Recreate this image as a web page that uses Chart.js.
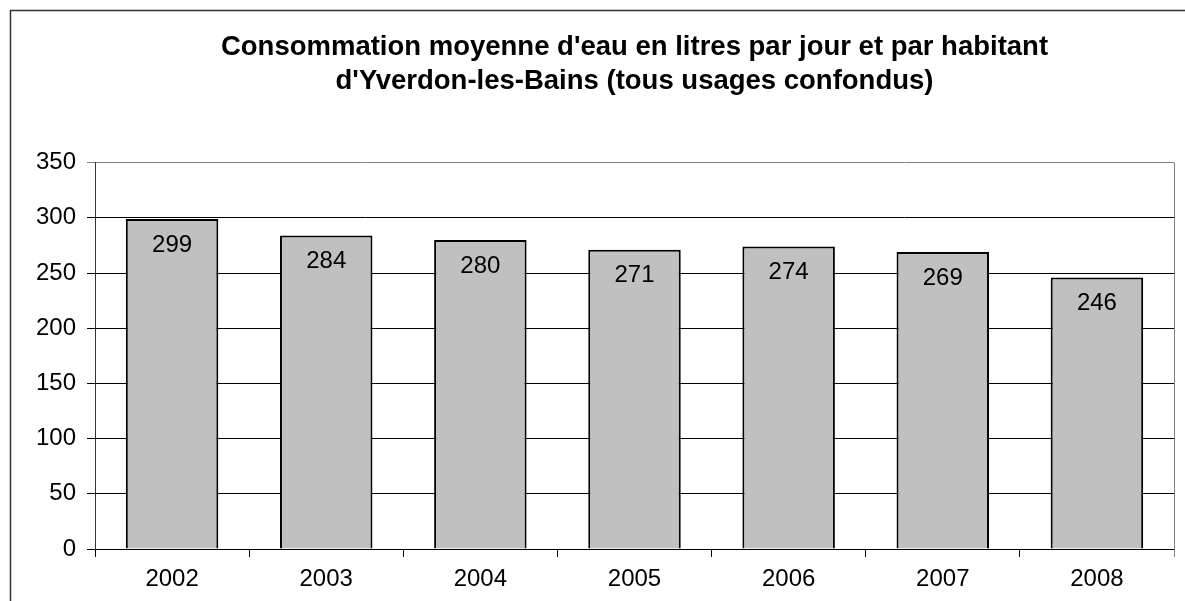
<!DOCTYPE html>
<html>
<head>
<meta charset="utf-8">
<script src="https://cdn.jsdelivr.net/npm/chart.js@4"></script>
<style>
  html, body { margin: 0; padding: 0; background: #fff; overflow: hidden; }
  #wrap { width: 1185px; height: 601px; }
</style>
</head>
<body>
<div id="wrap"><canvas id="chart"></canvas></div>
<script>
const annees = ['2002', '2003', '2004', '2005', '2006', '2007', '2008'];
const consommation = [299, 284, 280, 271, 274, 269, 246];
const titreLignes = [
    "Consommation moyenne d'eau en litres par jour et par habitant",
    "d'Yverdon-les-Bains (tous usages confondus)"
];
const yMin = 0;
const yMax = 350;
const yPas = 50;

const police = '"Liberation Sans", Arial, sans-serif';

// cadre extérieur (haut + gauche) + bordure droite de la zone de tracé + étiquettes dans les barres
const cadrePlugin = {
    id: 'cadre',
    afterDraw(chart) {
        const ctx = chart.ctx;
        const a = chart.chartArea;
        ctx.save();
        ctx.strokeStyle = '#333';
        ctx.lineWidth = 1.5;
        ctx.beginPath();
        ctx.moveTo(10.5, chart.height);
        ctx.lineTo(10.5, 10.5);
        ctx.lineTo(chart.width, 10.5);
        ctx.stroke();

        ctx.lineWidth = 1;
        ctx.strokeStyle = '#808080';
        ctx.beginPath();
        ctx.moveTo(Math.round(a.right) + 0.5, a.top);
        ctx.lineTo(Math.round(a.right) + 0.5, a.bottom + 8);
        ctx.stroke();

        ctx.fillStyle = '#000';
        ctx.font = '24px ' + police;
        ctx.textAlign = 'center';
        ctx.textBaseline = 'middle';
        const meta = chart.getDatasetMeta(0);
        meta.data.forEach((bar, i) => {
            ctx.fillText(String(consommation[i]), bar.x, bar.y + 26);
        });
        ctx.restore();
    }
};

new Chart(document.querySelector('#chart'), {
    type: 'bar',
    data: {
        labels: annees,
        datasets: [{
            data: consommation,
            backgroundColor: '#c0c0c0',
            borderColor: '#000',
            borderWidth: 2,
            categoryPercentage: 1,
            barPercentage: 0.6
        }]
    },
    options: {
        responsive: true,
        maintainAspectRatio: false,
        animation: false,
        layout: { padding: { left: 0, right: 11, top: 0, bottom: 0 } },
        plugins: {
            legend: { display: false },
            tooltip: { enabled: false },
            title: {
                display: true,
                fullSize: false,
                text: titreLignes,
                color: '#000',
                font: { family: police, size: 27.5, weight: 'bold', lineHeight: 1.23 },
                padding: { top: 31, bottom: 64 }
            }
        },
        scales: {
            x: {
                grid: {
                    offset: true,
                    drawOnChartArea: false,
                    color: '#000',
                    tickLength: 8
                },
                border: { color: '#000', width: 1 },
                ticks: {
                    color: '#000',
                    padding: 8,
                    font: { family: police, size: 24 }
                },
                afterFit(scale) { scale.height = 52; }
            },
            y: {
                min: yMin,
                max: yMax,
                grid: {
                    color: ctx => ctx.tick && ctx.tick.value === yMax ? '#808080' : '#000',
                    tickLength: 8
                },
                border: { color: '#333', width: 1 },
                ticks: {
                    stepSize: yPas,
                    color: '#000',
                    padding: 11,
                    font: { family: police, size: 24 }
                },
                afterFit(scale) { scale.width = 95; }
            }
        }
    },
    plugins: [cadrePlugin]
});
</script>
</body>
</html>
